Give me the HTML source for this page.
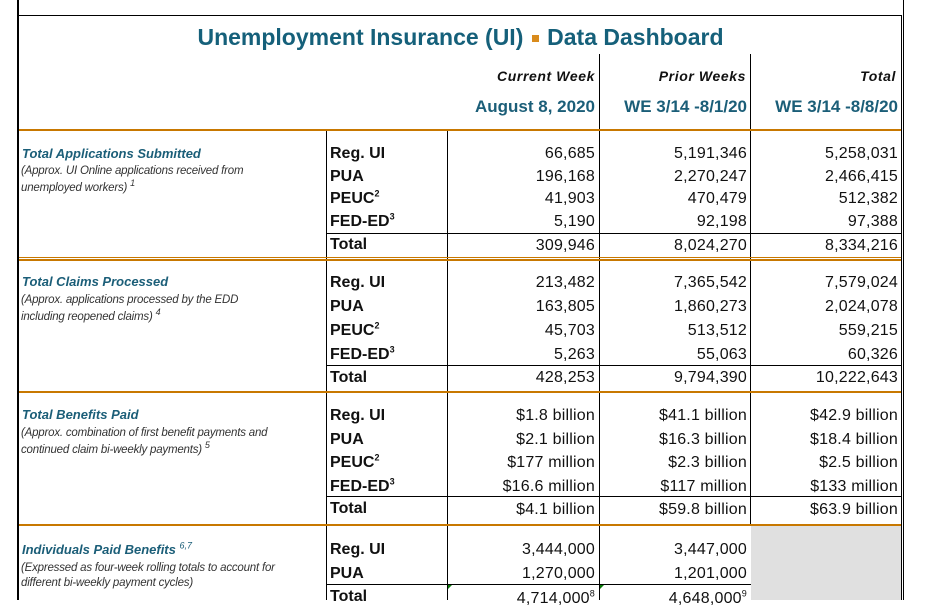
<!DOCTYPE html>
<html><head><meta charset="utf-8"><style>
body{margin:0;width:938px;height:600px;overflow:hidden;background:#fff;position:relative;font-family:"Liberation Sans",Arial,sans-serif}
div{position:absolute}
.h{height:1px;background:#000}
.v{width:1px;background:#000}
.o{height:2px;background:#c87800}
.t{white-space:nowrap;font-size:16px;line-height:20px;color:#111}
.lb{left:330px;font-weight:bold}
.r{text-align:right;letter-spacing:0.2px}
.c1{left:447px;width:148px}
.c2{left:600px;width:147px}
.c3{left:750px;width:148px}
.sec{left:22px;font-size:13px;font-weight:bold;font-style:italic;color:#1b5e78;white-space:nowrap}
.sub{left:21px;font-size:11.5px;font-style:italic;color:#333;line-height:17px;white-space:nowrap;letter-spacing:-0.2px}
sup{font-size:9px;line-height:0}
.hd{font-size:14px;font-style:italic;color:#111;text-align:right;letter-spacing:0.6px;font-weight:bold}
.hd2{font-size:17px;font-weight:bold;color:#1b5e78;text-align:right}
</style></head><body>
<div class="v" style="left:17px;top:0;height:600px;width:2px"></div>
<div class="v" style="left:903px;top:0;height:600px"></div>
<div class="h" style="left:18px;top:15px;width:884px"></div>
<div class="v" style="left:901px;top:15px;height:585px"></div>
<div class="t" style="left:0;width:921px;top:23px;line-height:28px;text-align:center;font-size:23px;font-weight:bold;color:#15607a">Unemployment Insurance (UI) <span style="display:inline-block;width:7px;height:7px;background:#d98b1c;vertical-align:middle;margin:0 2px"></span> Data Dashboard</div>
<div class="v" style="left:599px;top:54px;height:546px"></div>
<div class="v" style="left:750px;top:54px;height:472px"></div>
<div class="v" style="left:326px;top:131px;height:469px"></div>
<div class="v" style="left:447px;top:131px;height:469px"></div>
<div class="t hd" style="left:447px;width:148px;top:66px">Current Week</div>
<div class="t hd" style="left:600px;width:146px;top:66px">Prior Weeks</div>
<div class="t hd" style="left:750px;width:146px;top:66px">Total</div>
<div class="t hd2" style="left:447px;width:148px;top:97px">August 8, 2020</div>
<div class="t hd2" style="left:600px;width:147px;top:97px">WE 3/14 -8/1/20</div>
<div class="t hd2" style="left:750px;width:148px;top:97px">WE 3/14 -8/8/20</div>
<div class="o" style="left:19px;top:129px;width:882px"></div>
<div class="h" style="left:326px;top:233px;width:575px"></div>
<div class="o" style="left:19px;top:257px;width:882px;height:1px"></div>
<div class="o" style="left:19px;top:259px;width:882px;height:2px"></div>
<div class="h" style="left:326px;top:365px;width:575px"></div>
<div class="o" style="left:19px;top:391px;width:882px"></div>
<div class="h" style="left:326px;top:496px;width:575px"></div>
<div class="o" style="left:19px;top:524px;width:882px"></div>
<div class="h" style="left:326px;top:584px;width:425px"></div>
<div style="left:751px;top:526px;width:150px;height:74px;background:#e0e0e0"></div>

<div class="sec" style="top:146px">Total Applications Submitted</div>
<div class="sub" style="top:163px">(Approx. UI Online applications received from<br>unemployed workers) <sup>1</sup></div>
<div class="sec" style="top:274px">Total Claims Processed</div>
<div class="sub" style="top:292px">(Approx. applications processed by the EDD<br>including reopened claims) <sup>4</sup></div>
<div class="sec" style="top:407px">Total Benefits Paid</div>
<div class="sub" style="top:425px">(Approx. combination of first benefit payments and<br>continued claim bi-weekly payments) <sup>5</sup></div>
<div class="sec" style="top:542px">Individuals Paid Benefits <sup style="font-weight:normal">6,7</sup></div>
<div class="sub" style="top:561px;line-height:15px">(Expressed as four-week rolling totals to account for<br>different bi-weekly payment cycles)</div>

<div class="t lb" style="top:144px">Reg. UI</div><div class="t r c1" style="top:144px">66,685</div><div class="t r c2" style="top:144px">5,191,346</div><div class="t r c3" style="top:144px">5,258,031</div>
<div class="t lb" style="top:167px">PUA</div><div class="t r c1" style="top:167px">196,168</div><div class="t r c2" style="top:167px">2,270,247</div><div class="t r c3" style="top:167px">2,466,415</div>
<div class="t lb" style="top:189px">PEUC<sup>2</sup></div><div class="t r c1" style="top:189px">41,903</div><div class="t r c2" style="top:189px">470,479</div><div class="t r c3" style="top:189px">512,382</div>
<div class="t lb" style="top:212px">FED-ED<sup>3</sup></div><div class="t r c1" style="top:212px">5,190</div><div class="t r c2" style="top:212px">92,198</div><div class="t r c3" style="top:212px">97,388</div>
<div class="t lb" style="top:235px">Total</div><div class="t r c1" style="top:236px">309,946</div><div class="t r c2" style="top:236px">8,024,270</div><div class="t r c3" style="top:236px">8,334,216</div>

<div class="t lb" style="top:273px">Reg. UI</div><div class="t r c1" style="top:273px">213,482</div><div class="t r c2" style="top:273px">7,365,542</div><div class="t r c3" style="top:273px">7,579,024</div>
<div class="t lb" style="top:297px">PUA</div><div class="t r c1" style="top:297px">163,805</div><div class="t r c2" style="top:297px">1,860,273</div><div class="t r c3" style="top:297px">2,024,078</div>
<div class="t lb" style="top:321px">PEUC<sup>2</sup></div><div class="t r c1" style="top:321px">45,703</div><div class="t r c2" style="top:321px">513,512</div><div class="t r c3" style="top:321px">559,215</div>
<div class="t lb" style="top:345px">FED-ED<sup>3</sup></div><div class="t r c1" style="top:345px">5,263</div><div class="t r c2" style="top:345px">55,063</div><div class="t r c3" style="top:345px">60,326</div>
<div class="t lb" style="top:368px">Total</div><div class="t r c1" style="top:368px">428,253</div><div class="t r c2" style="top:368px">9,794,390</div><div class="t r c3" style="top:368px">10,222,643</div>

<div class="t lb" style="top:406px">Reg. UI</div><div class="t r c1" style="top:406px">$1.8 billion</div><div class="t r c2" style="top:406px">$41.1 billion</div><div class="t r c3" style="top:406px">$42.9 billion</div>
<div class="t lb" style="top:430px">PUA</div><div class="t r c1" style="top:430px">$2.1 billion</div><div class="t r c2" style="top:430px">$16.3 billion</div><div class="t r c3" style="top:430px">$18.4 billion</div>
<div class="t lb" style="top:453px">PEUC<sup>2</sup></div><div class="t r c1" style="top:453px">$177 million</div><div class="t r c2" style="top:453px">$2.3 billion</div><div class="t r c3" style="top:453px">$2.5 billion</div>
<div class="t lb" style="top:477px">FED-ED<sup>3</sup></div><div class="t r c1" style="top:477px">$16.6 million</div><div class="t r c2" style="top:477px">$117 million</div><div class="t r c3" style="top:477px">$133 million</div>
<div class="t lb" style="top:499px">Total</div><div class="t r c1" style="top:500px">$4.1 billion</div><div class="t r c2" style="top:500px">$59.8 billion</div><div class="t r c3" style="top:500px">$63.9 billion</div>

<div class="t lb" style="top:540px">Reg. UI</div><div class="t r c1" style="top:540px">3,444,000</div><div class="t r c2" style="top:540px">3,447,000</div>
<div class="t lb" style="top:564px">PUA</div><div class="t r c1" style="top:564px">1,270,000</div><div class="t r c2" style="top:564px">1,201,000</div>
<div class="t lb" style="top:587px">Total</div><div class="t r c1" style="top:589px">4,714,000<sup>8</sup></div><div class="t r c2" style="top:589px">4,648,000<sup>9</sup></div>
<div style="left:448px;top:585px;width:0;height:0;border-top:4px solid #0a7a0a;border-right:4px solid transparent"></div>
<div style="left:600px;top:585px;width:0;height:0;border-top:4px solid #0a7a0a;border-right:4px solid transparent"></div>
</body></html>
